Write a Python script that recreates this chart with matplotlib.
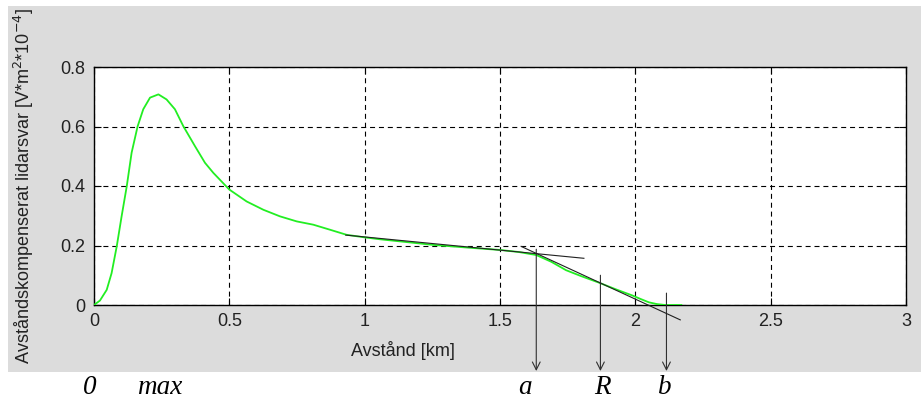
import matplotlib.pyplot as plt
from matplotlib.patches import Rectangle

# lidar signal
dist_km = [0.0, 0.022, 0.047, 0.065, 0.084, 0.102, 0.121, 0.139, 0.161, 0.182, 0.207,
           0.238, 0.268, 0.299, 0.33, 0.373, 0.41, 0.441, 0.5, 0.564, 0.626, 0.687,
           0.749, 0.81, 0.872, 0.933, 0.995, 1.056, 1.15, 1.254, 1.38, 1.5, 1.57, 1.634,
           1.69, 1.744, 1.8, 1.866, 1.93, 1.989, 2.02, 2.05, 2.08, 2.11, 2.17]
signal = [0.0, 0.015, 0.051, 0.107, 0.197, 0.298, 0.399, 0.512, 0.6, 0.658, 0.697,
          0.708, 0.691, 0.658, 0.601, 0.534, 0.478, 0.444, 0.388, 0.348, 0.32, 0.298,
          0.281, 0.27, 0.253, 0.236, 0.228, 0.221, 0.212, 0.202, 0.193, 0.185, 0.178,
          0.168, 0.145, 0.117, 0.097, 0.075, 0.052, 0.032, 0.02, 0.009, 0.003, 0.0, 0.0]

# tangent lines
tan1_x = [0.93, 1.81]
tan1_y = [0.235, 0.157]
tan2_x = [1.578, 2.166]
tan2_y = [0.197, -0.05]

# arrows a, R, b
arrow_x = [1.634, 1.871, 2.115]
arrow_top = [0.1875, 0.10, 0.04]

W, H = 921, 404
fig = plt.figure(figsize=(W / 100, H / 100), dpi=100, facecolor='white')
bg = Rectangle((8 / W, (H - 372) / H), 1 - 8 / W, (372 - 6) / H,
               transform=fig.transFigure, facecolor='#dcdcdc',
               edgecolor='none', zorder=-10)
fig.add_artist(bg)

ax = fig.add_axes([94 / W, (H - 305) / H, 812 / W, 238 / H])
ax.set_facecolor('white')

ax.plot(dist_km, signal, color='#22ee22', linewidth=1.3, zorder=3)
ax.plot(tan1_x, tan1_y, color='#202020', linewidth=0.8, zorder=4)
ax.plot(tan2_x, tan2_y, color='#202020', linewidth=0.8, zorder=4, clip_on=False)

for xv, yv in zip(arrow_x, arrow_top):
    ax.annotate('', xy=(xv, H - 371), xycoords=('data', 'figure pixels'),
                xytext=(xv, yv), textcoords='data', annotation_clip=False,
                arrowprops=dict(arrowstyle='->', color='#303030', lw=0.8,
                                shrinkA=0, shrinkB=0, mutation_scale=14))

ax.set_xlim(0, 3)
ax.set_ylim(0, 0.8)
ax.set_xticks([0, 0.5, 1, 1.5, 2, 2.5, 3])
ax.set_xticklabels(['0', '0.5', '1', '1.5', '2', '2.5', '3'])
ax.set_yticks([0, 0.2, 0.4, 0.6, 0.8])
ax.set_yticklabels(['0', '0.2', '0.4', '0.6', '0.8'])
ax.grid(True, color='black', linestyle=(0, (4.5, 3.5)), linewidth=0.8)
ax.tick_params(direction='in', top=True, right=True, length=5, labelsize=13,
               labelcolor='#222222', pad=6)
for s in ax.spines.values():
    s.set_linewidth(1.0)

for lab in ax.get_xticklabels() + ax.get_yticklabels():
    lab.set_fontfamily('Liberation Sans')

ax.set_xlabel('Avstånd [km]', fontsize=13, family='Liberation Sans', color='#222222')
ax.xaxis.set_label_coords(1.14 / 3, -0.15)
ax.set_ylabel('Avståndskompenserat lidarsvar [V*m$^2$*10$^{-4}$]', fontsize=13,
              family='Liberation Sans', color='#222222')
ax.yaxis.set_label_coords(-0.072, 0.5)

for txt, px in zip(['0', 'max', 'a', 'R', 'b'], [90, 160, 525, 602, 665]):
    fig.text(px / W, (H - 387) / H, txt, fontsize=19.5, family='Liberation Serif',
             style='italic', ha='center', va='center')

fig.savefig('out.png', dpi=100, facecolor=fig.get_facecolor())
